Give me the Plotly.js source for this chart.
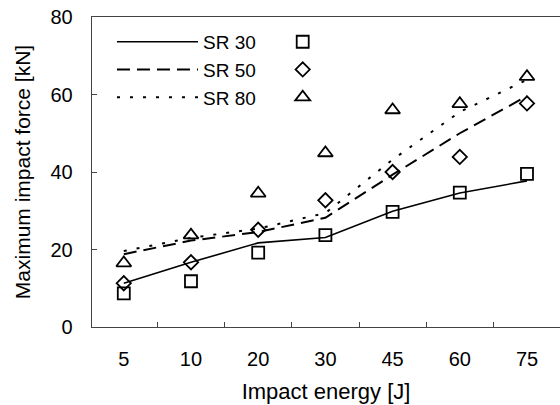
<!DOCTYPE html>
<html>
<head>
<meta charset="utf-8">
<script src="https://cdn.plot.ly/plotly-3.0.1.min.js"></script>
<style>html,body{margin:0;padding:0;background:#fff;}#chart{width:560px;height:405px;}</style>
</head>
<body>
<div id="chart"></div>
<script>
// Categories (impact energy, J)
var energy = ['5', '10', '20', '30', '45', '60', '75'];

// Predicted (line) series, kN
var sr30Line = [11.3, 16.7, 21.7, 23.1, 29.9, 34.6, 37.7];
var sr50Line = [18.8, 22.3, 24.5, 28.2, 39.3, 50.0, 59.6];
var sr80Line = [19.6, 23.0, 25.4, 29.4, 43.2, 55.5, 63.8];

// Measured (marker) series, kN
var sr30Pts = [8.7, 11.8, 19.2, 23.7, 29.7, 34.7, 39.5];
var sr50Pts = [11.3, 16.7, 25.1, 32.7, 40.0, 43.9, 57.7];
var sr80Pts = [16.5, 23.7, 34.5, 44.9, 56.0, 57.6, 64.6];

var seriesNames = ['SR 30', 'SR 50', 'SR 80'];
var yTicks = [0, 20, 40, 60, 80];

var FONT = 'Liberation Sans, Arial, sans-serif';
var lineData = [sr30Line, sr50Line, sr80Line];
var ptsData = [sr30Pts, sr50Pts, sr80Pts];
var dashes = ['solid', '13px,7px', '3px,10px'];
var widths = [1.6, 2, 2];
var symbols = ['square-open', 'diamond-open', 'triangle-up-open'];
var sizes = [12, 11, 13];

var traces = [];
for (var i = 0; i < 3; i++) {
  traces.push({
    x: energy, y: lineData[i], type: 'scatter', mode: 'lines',
    name: seriesNames[i], legend: 'legend',
    line: {color: '#000', width: widths[i], dash: dashes[i]},
    hoverinfo: 'x+y'
  });
}
for (var j = 0; j < 3; j++) {
  traces.push({
    x: energy, y: ptsData[j], type: 'scatter', mode: 'markers',
    name: ' ', legend: 'legend2',
    marker: {symbol: symbols[j], size: sizes[j], color: '#000', line: {color: '#000', width: 1.8}},
    hoverinfo: 'x+y'
  });
}

var layout = {
  width: 560, height: 405,
  margin: {l: 92, r: 0, t: 17, b: 78},
  paper_bgcolor: '#fff', plot_bgcolor: '#fff',
  font: {family: FONT, size: 20, color: '#000'},
  xaxis: {
    type: 'category', range: [-0.473, 6.491],
    tickson: 'boundaries', ticks: 'inside', ticklen: 5, tickwidth: 1, tickcolor: '#444',
    showline: true, linecolor: '#444', linewidth: 1.3, mirror: true,
    showgrid: false, zeroline: false,
    ticklabelstandoff: 14,
    tickfont: {family: FONT, size: 20, color: '#000'},
    title: {text: 'Impact energy [J]', font: {family: FONT, size: 22, color: '#000'}, standoff: 14}
  },
  yaxis: {
    range: [0, 80], tickvals: yTicks, ticktext: yTicks.map(String),
    ticks: 'inside', ticklen: 5, tickwidth: 1, tickcolor: '#444',
    showline: true, linecolor: '#444', linewidth: 1.3,
    showgrid: false, zeroline: false,
    ticklabelstandoff: 14,
    tickfont: {family: FONT, size: 20, color: '#000'},
    title: {text: 'Maximum impact force [kN]', font: {family: FONT, size: 21, color: '#000'}, standoff: 14}
  },
  legend: {
    x: 0.0427, y: 0.981, xanchor: 'left', yanchor: 'top',
    bgcolor: 'rgba(0,0,0,0)', borderwidth: 0, itemwidth: 81,
    font: {family: FONT, size: 19, color: '#000'}, tracegroupgap: 0
  },
  legend2: {
    x: 0.4075, y: 0.981, xanchor: 'left', yanchor: 'top',
    bgcolor: 'rgba(0,0,0,0)', borderwidth: 0, itemwidth: 30,
    font: {family: FONT, size: 19, color: '#000'}, tracegroupgap: 0
  },
  showlegend: true
};

Plotly.newPlot('chart', traces, layout, {displayModeBar: false, staticPlot: true});
</script>
</body>
</html>
